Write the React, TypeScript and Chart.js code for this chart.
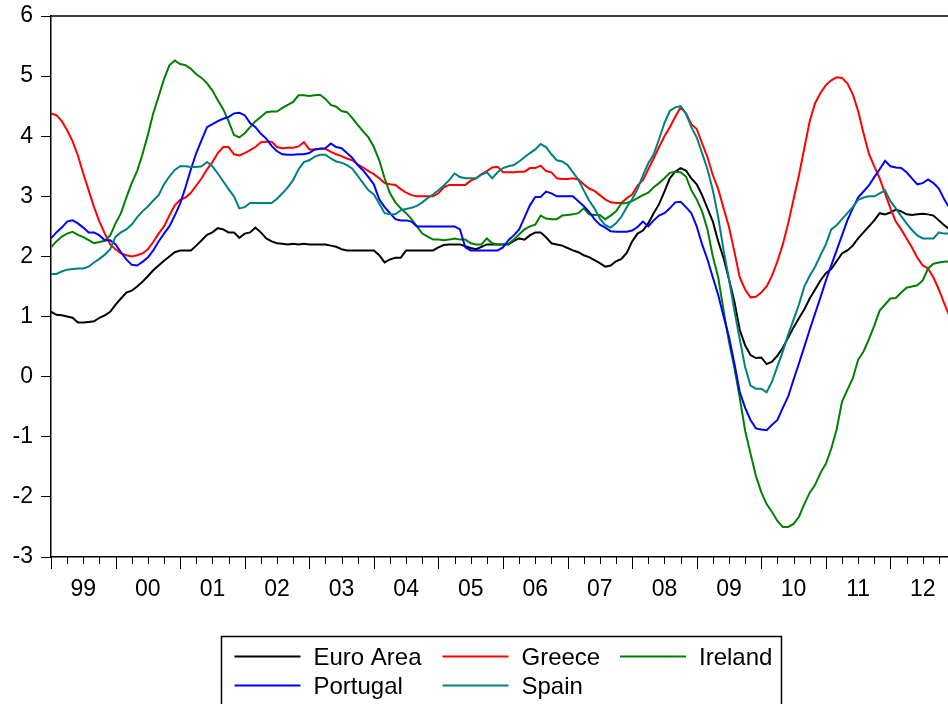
import { useEffect, useRef } from 'react';
import { Chart, registerables } from 'chart.js';

Chart.register(...registerables);

// Monthly data, Jan 1999 .. Dec 2012
const yearLabels = ['99', '00', '01', '02', '03', '04', '05', '06', '07', '08', '09', '10', '11', '12'];

const euroArea = [
  1.08, 1.03, 1.02, 1.0, 0.98, 0.9, 0.9, 0.91, 0.92, 0.98, 1.02, 1.08,
  1.2, 1.3, 1.4, 1.43, 1.5, 1.58, 1.67, 1.77, 1.85, 1.93, 2.0, 2.07,
  2.1, 2.1, 2.1, 2.18, 2.27, 2.36, 2.4, 2.47, 2.45, 2.4, 2.4, 2.31,
  2.38, 2.4, 2.48, 2.4, 2.3, 2.25, 2.22, 2.21, 2.2, 2.21, 2.2, 2.21,
  2.2, 2.2, 2.2, 2.2, 2.18, 2.16, 2.12, 2.1, 2.1, 2.1, 2.1, 2.1,
  2.1, 2.02, 1.9, 1.95, 1.98, 1.98, 2.1, 2.1, 2.1, 2.1, 2.1, 2.1,
  2.15, 2.19, 2.2, 2.2, 2.2, 2.17, 2.14, 2.12, 2.16, 2.2, 2.2, 2.2,
  2.2, 2.2, 2.26, 2.3, 2.28, 2.35, 2.4, 2.4, 2.32, 2.22, 2.2, 2.18,
  2.14, 2.1, 2.07, 2.02, 1.99, 1.94, 1.89, 1.83, 1.85, 1.92, 1.96, 2.06,
  2.25, 2.38, 2.43, 2.55, 2.72, 2.87, 3.08, 3.3, 3.41, 3.47, 3.43, 3.3,
  3.2, 3.02, 2.8, 2.58, 2.25, 1.97, 1.62, 1.25, 0.78, 0.52, 0.36, 0.31,
  0.32, 0.21, 0.25, 0.35, 0.48, 0.65, 0.82, 0.97, 1.12, 1.3, 1.45, 1.6,
  1.72, 1.79, 1.92, 2.05, 2.1, 2.18, 2.3, 2.4, 2.5, 2.6, 2.72, 2.7,
  2.73, 2.78, 2.75, 2.7, 2.69, 2.7, 2.71, 2.7, 2.68, 2.6, 2.52, 2.45,
];

const greece = [
  4.38, 4.35, 4.25, 4.1, 3.92, 3.68, 3.38, 3.1, 2.82, 2.58, 2.38, 2.2,
  2.12, 2.05, 2.02, 2.0, 2.02, 2.05, 2.12, 2.24, 2.38, 2.5, 2.68, 2.85,
  2.94, 2.98, 3.06, 3.18, 3.3, 3.45, 3.57, 3.72, 3.82, 3.82, 3.7, 3.68,
  3.72, 3.77, 3.82, 3.9, 3.91, 3.91, 3.82, 3.8, 3.81, 3.81, 3.83, 3.9,
  3.78, 3.78, 3.79, 3.79, 3.74, 3.7, 3.67, 3.63, 3.6, 3.53, 3.48, 3.42,
  3.37, 3.3, 3.22, 3.2, 3.19, 3.12, 3.06, 3.02, 3.0, 3.0, 3.0, 3.0,
  3.05, 3.15, 3.19, 3.19, 3.19, 3.19, 3.26, 3.3, 3.37, 3.42, 3.48, 3.49,
  3.4, 3.4, 3.4, 3.41, 3.41, 3.47, 3.47, 3.51, 3.42, 3.4, 3.3, 3.29,
  3.29, 3.3, 3.28, 3.2, 3.13, 3.09, 3.02, 2.95, 2.9, 2.89, 2.89, 2.97,
  3.03, 3.18, 3.27, 3.45, 3.63, 3.82, 4.0, 4.15, 4.32, 4.48, 4.38, 4.2,
  4.12, 3.88, 3.65, 3.35, 3.12, 2.8, 2.49, 2.08, 1.65, 1.45, 1.32, 1.33,
  1.4, 1.5, 1.68, 1.92, 2.2, 2.55, 2.95, 3.35, 3.8, 4.25, 4.55, 4.72,
  4.85, 4.93, 4.98, 4.97, 4.88, 4.7, 4.42, 4.05, 3.71, 3.5, 3.3, 3.05,
  2.8, 2.58, 2.45, 2.3, 2.15, 1.98, 1.85, 1.8, 1.65, 1.45, 1.22, 1.0,
];

const ireland = [
  2.15, 2.25, 2.33, 2.38, 2.41, 2.36, 2.32, 2.27, 2.22, 2.24, 2.26, 2.35,
  2.55, 2.72, 2.98, 3.22, 3.42, 3.7, 4.02, 4.38, 4.66, 4.95, 5.18, 5.26,
  5.2, 5.18, 5.12, 5.03, 4.97, 4.88, 4.76, 4.6, 4.45, 4.25, 4.02, 3.98,
  4.05, 4.15, 4.25, 4.32, 4.4, 4.41, 4.41, 4.47, 4.52, 4.57, 4.68, 4.68,
  4.67, 4.68, 4.69, 4.62, 4.52, 4.49, 4.42, 4.4, 4.3, 4.19, 4.08, 3.98,
  3.82, 3.6, 3.3, 3.05, 2.9, 2.8, 2.72, 2.62, 2.5, 2.38, 2.33, 2.28,
  2.28, 2.27, 2.28, 2.3, 2.28, 2.28, 2.22, 2.2, 2.2, 2.3, 2.22, 2.2,
  2.2, 2.21, 2.28, 2.37, 2.45, 2.5, 2.53, 2.68, 2.63, 2.62, 2.62, 2.68,
  2.69, 2.7, 2.72, 2.8, 2.7, 2.69, 2.69, 2.62, 2.68, 2.75, 2.88, 2.89,
  2.92, 2.97, 3.02, 3.06, 3.15, 3.22, 3.3, 3.39, 3.41, 3.4, 3.33, 3.1,
  2.95, 2.75, 2.45, 2.0, 1.65, 1.1, 0.58, 0.15, -0.35, -0.9, -1.28, -1.65,
  -1.92, -2.12, -2.25, -2.4, -2.5, -2.5, -2.45, -2.33, -2.12, -1.93, -1.8, -1.6,
  -1.45, -1.2, -0.88, -0.42, -0.22, -0.03, 0.28, 0.42, 0.62, 0.85, 1.1, 1.2,
  1.3, 1.31, 1.4, 1.48, 1.5, 1.52, 1.6, 1.8, 1.88, 1.9, 1.91, 1.92,
];

const portugal = [
  2.3, 2.4, 2.48, 2.58, 2.6, 2.55, 2.48, 2.4, 2.4, 2.35, 2.27, 2.27,
  2.2, 2.07, 1.95, 1.86, 1.85, 1.91, 1.98, 2.1, 2.25, 2.38, 2.5, 2.68,
  2.88, 3.15, 3.45, 3.72, 3.94, 4.15, 4.2, 4.25, 4.29, 4.32, 4.38, 4.39,
  4.35, 4.22, 4.15, 4.04, 3.96, 3.84, 3.75, 3.7, 3.69, 3.69, 3.7, 3.7,
  3.72, 3.78, 3.79, 3.8, 3.88, 3.82, 3.8, 3.72, 3.64, 3.52, 3.43, 3.32,
  3.2, 2.95, 2.82, 2.72, 2.62, 2.6, 2.6, 2.58, 2.5, 2.5, 2.5, 2.5,
  2.5, 2.5, 2.5, 2.5, 2.45, 2.15, 2.1, 2.1, 2.1, 2.1, 2.1, 2.1,
  2.15, 2.27, 2.35, 2.45, 2.65, 2.85, 2.99, 2.99, 3.08, 3.05, 3.0, 3.0,
  3.0, 3.0, 2.92, 2.84, 2.74, 2.62, 2.53, 2.48, 2.42, 2.41, 2.41, 2.41,
  2.43, 2.49, 2.58, 2.5, 2.6, 2.68, 2.72, 2.8, 2.9, 2.91, 2.82, 2.72,
  2.5, 2.2, 1.95, 1.65, 1.36, 1.0, 0.66, 0.22, -0.25, -0.52, -0.72, -0.86,
  -0.88, -0.89, -0.8, -0.72, -0.52, -0.33, -0.05, 0.22, 0.5, 0.78, 1.05, 1.32,
  1.6, 1.85, 2.1, 2.35, 2.6, 2.8, 2.98, 3.08, 3.18, 3.32, 3.45, 3.59,
  3.5, 3.48, 3.47, 3.4, 3.3, 3.2, 3.22, 3.28, 3.22, 3.13, 2.95, 2.8,
];

const spain = [
  1.71, 1.71, 1.75, 1.78, 1.79, 1.8, 1.8, 1.83, 1.9, 1.96, 2.03, 2.12,
  2.33, 2.4, 2.45, 2.53, 2.65, 2.75, 2.83, 2.93, 3.02, 3.2, 3.33, 3.44,
  3.5, 3.5, 3.49, 3.49, 3.5, 3.57, 3.5, 3.38, 3.25, 3.12, 3.0, 2.8,
  2.82, 2.89, 2.89, 2.89, 2.89, 2.89, 2.96, 3.05, 3.15, 3.27, 3.45, 3.57,
  3.6, 3.66, 3.69, 3.69, 3.63, 3.58, 3.56, 3.52, 3.46, 3.34, 3.22, 3.1,
  3.03, 2.88, 2.72, 2.7, 2.7, 2.77, 2.79, 2.81, 2.84, 2.9, 2.97, 3.03,
  3.1, 3.18, 3.27, 3.38, 3.32, 3.3, 3.3, 3.3, 3.36, 3.4, 3.3, 3.4,
  3.47, 3.5, 3.52, 3.58, 3.65, 3.72, 3.78, 3.87, 3.82, 3.7, 3.6, 3.58,
  3.52, 3.4, 3.28, 3.1, 2.93, 2.8, 2.63, 2.52, 2.48, 2.55, 2.66, 2.82,
  2.95, 3.12, 3.35, 3.55, 3.7, 3.95, 4.22, 4.42, 4.48, 4.5, 4.38, 4.15,
  3.98, 3.72, 3.45, 3.1, 2.65, 2.1, 1.62, 1.1, 0.62, 0.16, -0.15, -0.2,
  -0.2, -0.26, -0.08, 0.17, 0.42, 0.7, 0.95, 1.2, 1.5, 1.68, 1.83, 2.02,
  2.2, 2.45, 2.52, 2.62, 2.72, 2.82, 2.94, 2.98, 3.0, 3.0, 3.05, 3.1,
  2.92, 2.8, 2.67, 2.55, 2.44, 2.35, 2.3, 2.3, 2.3, 2.4, 2.38, 2.38,
];

const seriesNames = ['Euro Area', 'Greece', 'Ireland', 'Portugal', 'Spain'];
const seriesValues = [euroArea, greece, ireland, portugal, spain];
const seriesColors = ['#000000', '#ff0000', '#008000', '#0000ff', '#008080'];

const FONT = '"Liberation Sans", Arial, sans-serif';

const framePlugin = {
  id: 'frameAndLegend',
  afterDraw(chart: any) {
    const ctx = chart.ctx;
    const { left, right, top, bottom } = chart.chartArea;
    const xs = chart.scales.x;
    ctx.save();
    // top frame line
    ctx.strokeStyle = '#000';
    ctx.lineWidth = 1.5;
    ctx.beginPath();
    ctx.moveTo(left, top);
    ctx.lineTo(right, top);
    ctx.stroke();
    // x tick marks: quarters minor, years major
    ctx.lineWidth = 1;
    for (let m = 0; m <= xs.max; m += 3) {
      const px = Math.round(xs.getPixelForValue(m)) + 0.5;
      const len = m % 12 === 0 ? 12 : 7;
      ctx.beginPath();
      ctx.moveTo(px, bottom);
      ctx.lineTo(px, bottom + len);
      ctx.stroke();
    }
    // legend
    const boxL = 221.5;
    const boxT = 636.5;
    const boxW = 560;
    ctx.lineWidth = 1.5;
    ctx.strokeRect(boxL, boxT, boxW, 120);
    const colX = [234.5, 442.5, 620];
    const rowY = [656.5, 685.5];
    ctx.font = `24px ${FONT}`;
    ctx.textBaseline = 'alphabetic';
    ctx.textAlign = 'left';
    chart.data.datasets.forEach((ds: any, i: number) => {
      const r = i < 3 ? 0 : 1;
      const c = i < 3 ? i : i - 3;
      const lx = colX[c];
      const ly = rowY[r];
      ctx.strokeStyle = ds.borderColor;
      ctx.lineWidth = 2;
      ctx.beginPath();
      ctx.moveTo(lx, ly);
      ctx.lineTo(lx + 66, ly);
      ctx.stroke();
      ctx.fillStyle = '#000';
      ctx.fillText(ds.label, lx + 79, ly + 8);
    });
    ctx.restore();
  },
};

export default function App() {
  const ref = useRef<HTMLCanvasElement | null>(null);

  useEffect(() => {
    if (!ref.current) return;
    const datasets = seriesNames.map((name, i) => ({
      label: name,
      data: seriesValues[i].map((v, m) => ({ x: m, y: v })),
      borderColor: seriesColors[i],
      backgroundColor: seriesColors[i],
      borderWidth: 2,
      pointRadius: 0,
      tension: 0,
      fill: false,
      order: seriesNames.length - i,
    }));
    const chart = new Chart(ref.current, {
      type: 'line',
      data: { datasets },
      options: {
        animation: false,
        responsive: false,
        devicePixelRatio: 1,
        layout: { padding: { top: 16, right: 0, bottom: 0, left: 0 } },
        plugins: {
          legend: { display: false },
          tooltip: { enabled: false },
          title: { display: false },
        },
        scales: {
          x: {
            type: 'linear',
            min: 0,
            max: 166.7,
            afterFit: (s: any) => {
              s.height = 147;
              s.paddingLeft = 0;
              s.paddingRight = 0;
            },
            afterBuildTicks: (s: any) => {
              s.ticks = yearLabels.map((_, i) => ({ value: i * 12 + 6 }));
            },
            ticks: {
              autoSkip: false,
              maxRotation: 0,
              minRotation: 0,
              padding: 0,
              color: '#000',
              font: { family: FONT, size: 23 },
              callback: (_v: any, idx: number) => yearLabels[idx],
            },
            grid: {
              display: true,
              drawOnChartArea: false,
              drawTicks: true,
              tickLength: 19,
              color: 'rgba(0,0,0,0)',
            },
            border: { display: true, color: '#000', width: 1.5 },
          },
          y: {
            type: 'linear',
            min: -3,
            max: 6,
            afterFit: (s: any) => {
              s.width = 51;
              s.paddingTop = 0;
              s.paddingBottom = 0;
            },
            ticks: {
              stepSize: 1,
              padding: 8,
              color: '#000',
              font: { family: FONT, size: 23 },
            },
            grid: {
              display: true,
              drawOnChartArea: false,
              drawTicks: true,
              tickLength: 10,
              color: '#000',
            },
            border: { display: true, color: '#000', width: 1.5 },
          },
        },
      },
      plugins: [framePlugin],
    });
    return () => chart.destroy();
  }, []);

  return (
    <div style={{ position: 'absolute', left: 0, top: 0, width: 948, height: 704, overflow: 'hidden', background: '#fff' }}>
      <canvas ref={ref} width={948} height={704} style={{ display: 'block', width: 948, height: 704 }} />
    </div>
  );
}
